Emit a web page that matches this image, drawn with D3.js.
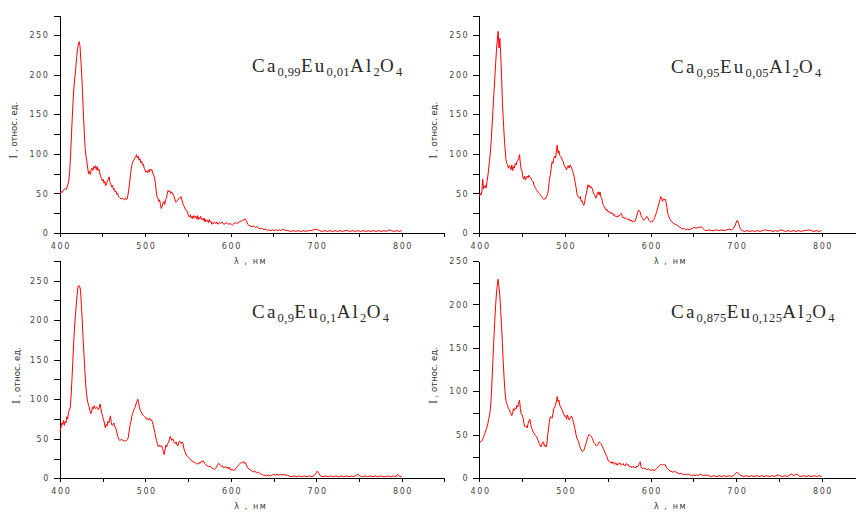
<!DOCTYPE html>
<html>
<head>
<meta charset="utf-8">
<script src="https://cdn.jsdelivr.net/npm/d3@7/dist/d3.min.js"></script>
<style>
    html, body { margin: 0; padding: 0; background: #fff; }
    svg { display: block; }
    .axis path, .axis line { stroke: #000; shape-rendering: crispEdges; }
    .axis text { font-family: "DejaVu Sans", sans-serif; font-size: 8px; fill: #444; letter-spacing: 1.6px; }
    .spectrum { fill: none; stroke: #ff0000; stroke-width: 1; stroke-linejoin: round; }
</style>
</head>
<body>
<div id="chart"></div>
<script>

// ======================================================================== //
// Luminescence spectra of Ca(1-x)Eu(x)Al2O4, four samples
// ======================================================================== //


// DATA  ([wavelength nm, intensity])

var spectrum099 = [[400,50],[402,52],[403,51],[405,55],[407,56],[408,55],[410,62],[411,67],[412,80],[413,100],[414,124],[415,148],[416,170],[417,186],[418,198],[419,208],[420,222],[421,232],[422,238],[423,242],[424,236],[425,218],[426,200],[427,175],[428,149],[429,126],[430,107],[431,97],[432,90],[433,82],[434,75],[435,78],[436,74],[437,80],[438,82],[439,79],[440,84],[441,82],[442,85],[443,80],[444,84],[445,79],[446,81],[447,76],[448,72],[449,69],[450,66],[451,68],[452,63],[453,65],[454,60],[455,62],[456,66],[457,68],[458,71],[459,64],[460,62],[461,58],[462,60],[463,55],[464,56],[465,52],[466,53],[467,49],[468,50],[469,46],[470,45],[472,43],[473,44],[475,42],[477,44],[478,42],[479,43],[480,48],[481,55],[482,64],[483,74],[484,82],[485,88],[486,91],[487,92],[488,95],[489,96],[490,99],[491,95],[492,97],[493,92],[494,94],[495,89],[496,91],[497,86],[498,87],[499,82],[500,80],[501,77],[502,78],[503,76],[504,80],[505,77],[506,81],[507,79],[508,80],[509,76],[510,73],[511,70],[512,64],[513,54],[514,46],[515,44],[516,40],[517,42],[518,36],[519,31],[520,34],[521,38],[522,40],[523,36],[524,42],[525,44],[526,50],[527,54],[528,52],[529,53],[530,50],[531,52],[532,51],[533,48],[534,46],[535,42],[536,39],[537,40],[538,41],[539,43],[540,44],[541,44],[542,46],[543,42],[544,38],[545,35],[546,33],[547,30],[549,28],[550,25],[551,22],[552,20],[553,23],[554,19],[555,21],[556,18],[557,22],[558,20],[559,21],[560,18],[561,22],[562,17],[563,20],[564,18],[565,21],[566,17],[567,18],[568,16],[569,19],[570,14],[571,17],[572,15],[573,16],[574,13],[575,17],[576,14],[577,15],[578,11],[579,13],[580,12],[581,14],[583,12],[584,14],[585,11],[587,13],[588,12],[590,14],[592,11],[594,12],[596,13],[598,11],[600,12],[602,10],[604,12],[606,13],[608,12],[610,14],[612,15],[614,16],[616,17],[617,18],[618,16],[619,14],[620,11],[621,10],[623,9],[625,8],[627,9],[629,7],[631,8],[633,6],[635,5],[637,6],[639,4],[641,5],[643,3],[645,4],[647,3],[649,4],[651,3],[653,4],[655,3],[657,4],[659,3],[661,5],[663,4],[665,3],[667,3],[670,2],[673,3],[676,2],[679,3],[682,2],[685,3],[688,2],[691,3],[694,3],[697,4],[700,5],[702,4],[704,3],[707,2],[710,3],[713,2],[716,3],[719,2],[722,3],[725,2],[728,3],[731,2],[734,3],[737,3],[740,2],[743,3],[746,2],[749,3],[752,2],[755,3],[758,2],[761,3],[764,2],[767,3],[770,2],[773,3],[776,2],[779,3],[782,2],[785,4],[788,3],[791,2],[794,3],[797,2],[800,3]];

var spectrum095 = [[400,46],[401,50],[402,48],[403,52],[404,68],[405,56],[406,58],[407,60],[408,57],[409,65],[410,72],[411,82],[412,92],[413,103],[414,118],[415,137],[416,156],[417,175],[418,194],[419,212],[420,230],[421,244],[422,255],[423,234],[424,246],[425,226],[426,198],[427,166],[428,144],[429,124],[430,108],[431,94],[432,88],[433,87],[434,82],[435,85],[436,84],[437,80],[438,86],[439,79],[440,84],[441,82],[442,88],[443,86],[444,90],[445,92],[446,94],[447,99],[448,88],[449,80],[450,78],[451,70],[452,68],[453,72],[454,67],[455,69],[456,72],[457,70],[458,73],[459,71],[460,70],[461,67],[462,66],[463,65],[464,60],[465,58],[466,56],[467,54],[468,53],[469,51],[470,50],[471,49],[472,47],[473,46],[474,44],[475,43],[477,43],[478,45],[479,47],[480,50],[481,58],[482,68],[483,74],[484,82],[485,90],[486,88],[487,94],[488,97],[489,95],[490,102],[491,111],[492,101],[493,104],[494,98],[495,97],[496,95],[497,92],[498,90],[499,86],[500,84],[501,82],[502,80],[503,84],[504,85],[505,82],[506,86],[507,84],[508,82],[509,78],[510,75],[511,70],[512,64],[513,58],[514,50],[515,47],[516,45],[517,44],[518,46],[519,40],[520,41],[521,37],[522,35],[523,38],[524,45],[525,50],[526,55],[527,61],[528,58],[529,60],[530,57],[531,58],[532,56],[533,52],[534,49],[535,48],[536,44],[537,46],[538,50],[539,52],[540,48],[541,52],[542,46],[543,44],[544,38],[545,35],[546,33],[547,31],[548,29],[549,30],[550,27],[552,27],[553,25],[554,26],[555,24],[556,25],[557,22],[558,23],[559,21],[560,21],[561,20],[562,22],[563,21],[564,23],[565,24],[566,25],[567,21],[568,19],[569,20],[570,18],[571,19],[572,18],[573,17],[574,18],[575,16],[576,17],[577,15],[578,16],[579,14],[580,15],[581,14],[582,15],[583,18],[584,22],[585,26],[586,29],[587,28],[588,26],[589,22],[590,20],[591,18],[592,16],[593,17],[594,18],[595,20],[596,21],[597,19],[598,16],[599,15],[600,14],[601,15],[602,14],[603,16],[604,17],[605,20],[606,23],[607,26],[608,30],[609,34],[610,38],[611,42],[612,46],[613,44],[614,40],[615,43],[616,42],[617,43],[618,40],[619,34],[620,26],[621,22],[622,19],[623,17],[624,15],[625,14],[627,12],[629,11],[631,10],[633,8],[635,7],[637,5],[639,6],[641,4],[643,5],[645,4],[647,5],[649,6],[651,7],[653,6],[655,7],[657,7],[659,8],[661,6],[663,4],[665,3],[668,4],[671,3],[674,3],[677,4],[680,3],[683,4],[686,3],[689,4],[692,5],[695,4],[697,6],[699,10],[701,16],[702,15],[703,12],[704,8],[705,5],[707,3],[710,2],[713,3],[716,2],[719,3],[722,2],[725,3],[728,2],[731,3],[734,4],[737,3],[740,3],[743,2],[746,3],[749,2],[752,4],[755,3],[758,2],[761,3],[764,2],[767,3],[770,2],[773,3],[776,2],[779,3],[782,3],[785,4],[788,3],[791,2],[794,3],[797,2],[800,3]];

var spectrum090 = [[400,59],[401,64],[402,70],[403,68],[404,73],[405,67],[406,72],[407,70],[408,78],[409,75],[410,84],[411,86],[412,90],[413,104],[414,125],[415,148],[416,171],[417,190],[418,206],[419,218],[420,232],[421,242],[422,244],[423,243],[424,238],[425,220],[426,200],[427,178],[428,158],[429,138],[430,120],[431,108],[432,99],[433,94],[434,91],[435,86],[436,82],[437,84],[438,90],[439,88],[440,92],[441,89],[442,88],[443,90],[444,89],[445,87],[446,90],[447,94],[448,88],[449,82],[450,78],[451,74],[452,70],[453,64],[454,68],[455,66],[456,72],[457,70],[458,74],[459,79],[460,70],[461,67],[462,68],[463,70],[464,66],[465,64],[466,61],[467,56],[468,52],[469,49],[470,48],[472,49],[474,48],[476,47],[478,48],[479,49],[480,52],[481,60],[482,67],[483,72],[484,78],[485,82],[486,85],[487,88],[488,90],[489,94],[490,97],[491,100],[492,96],[493,90],[494,86],[495,84],[496,82],[497,80],[498,79],[499,78],[500,77],[501,75],[502,76],[503,74],[504,75],[505,76],[506,73],[507,74],[508,72],[509,68],[510,63],[511,58],[512,52],[513,48],[514,44],[515,40],[516,41],[517,42],[518,40],[519,41],[520,38],[521,34],[522,30],[523,36],[524,42],[525,40],[526,44],[527,45],[528,49],[529,53],[530,50],[531,48],[532,50],[533,47],[534,45],[535,44],[536,46],[537,42],[538,41],[539,45],[540,47],[541,46],[542,44],[543,46],[544,44],[545,38],[546,34],[547,32],[548,29],[549,28],[550,27],[552,25],[553,24],[554,22],[556,21],[557,20],[558,20],[559,19],[560,18],[561,19],[562,18],[563,20],[564,19],[565,21],[566,22],[567,21],[568,22],[569,19],[570,18],[571,17],[572,16],[574,15],[576,15],[578,13],[580,12],[581,11],[582,12],[583,14],[584,16],[585,18],[586,19],[587,17],[588,16],[589,15],[590,16],[591,14],[592,13],[593,14],[594,15],[595,13],[596,14],[597,12],[598,14],[599,11],[600,12],[601,10],[602,11],[604,10],[605,11],[606,13],[607,14],[608,15],[609,17],[610,18],[611,19],[612,20],[613,19],[614,20],[615,21],[616,19],[617,20],[618,17],[619,15],[620,13],[622,11],[624,10],[626,8],[628,9],[630,7],[632,8],[634,6],[636,5],[638,4],[640,4],[642,3],[644,4],[646,3],[648,4],[650,5],[652,4],[654,5],[656,4],[658,5],[660,4],[662,5],[664,4],[666,4],[668,3],[671,2],[674,3],[677,2],[680,3],[683,2],[686,3],[689,2],[692,3],[695,2],[698,4],[700,7],[701,9],[702,8],[703,6],[705,3],[708,2],[711,3],[714,2],[717,3],[720,2],[723,3],[726,2],[729,3],[732,2],[735,3],[738,2],[741,3],[744,2],[747,4],[749,5],[751,3],[754,2],[757,3],[760,2],[763,3],[766,2],[769,3],[772,2],[775,3],[778,2],[781,2],[784,3],[787,2],[790,3],[793,2],[795,5],[797,3],[800,2]];

var spectrum0875 = [[400,41],[401,42],[402,42],[403,43],[404,45],[405,48],[406,50],[407,53],[408,56],[409,59],[410,63],[411,68],[412,73],[413,80],[414,95],[415,115],[416,138],[417,160],[418,180],[419,198],[420,212],[421,222],[422,229],[423,220],[424,210],[425,193],[426,175],[427,155],[428,133],[429,115],[430,100],[431,90],[432,86],[433,84],[434,80],[435,79],[436,76],[437,74],[438,72],[439,76],[440,80],[441,78],[442,81],[443,80],[444,84],[445,82],[446,87],[447,90],[448,80],[449,74],[450,73],[451,70],[452,64],[453,60],[454,59],[455,60],[456,58],[457,63],[458,66],[459,68],[460,62],[461,58],[462,56],[463,53],[464,52],[465,50],[466,49],[467,48],[468,45],[469,43],[470,40],[471,38],[472,36],[473,39],[474,41],[475,42],[476,37],[477,38],[478,36],[479,40],[480,50],[481,58],[482,66],[483,71],[484,70],[485,69],[486,74],[487,80],[488,82],[489,84],[490,88],[491,94],[492,88],[493,90],[494,84],[495,82],[496,80],[497,78],[498,75],[499,73],[500,71],[501,72],[502,68],[503,73],[504,70],[505,67],[506,69],[507,71],[508,71],[509,68],[510,64],[511,60],[512,56],[513,50],[514,46],[515,44],[516,42],[517,38],[518,35],[519,33],[520,31],[521,31],[522,32],[523,35],[524,38],[525,41],[526,45],[527,48],[528,50],[529,50],[530,49],[531,48],[532,46],[533,43],[534,41],[535,40],[536,38],[537,37],[538,38],[539,40],[540,42],[541,41],[542,40],[543,38],[544,36],[545,34],[546,32],[547,29],[548,27],[549,25],[550,22],[551,20],[552,19],[553,18],[554,19],[555,17],[556,19],[557,18],[558,16],[559,18],[560,17],[561,15],[562,17],[563,16],[564,18],[565,17],[566,15],[567,16],[568,17],[569,15],[570,14],[571,16],[572,17],[573,15],[574,16],[575,14],[576,13],[577,14],[578,12],[579,13],[580,14],[581,12],[582,13],[583,12],[584,14],[585,13],[586,15],[587,17],[588,19],[589,13],[590,12],[591,11],[592,12],[594,11],[596,10],[598,11],[600,9],[602,10],[604,9],[606,10],[607,11],[608,12],[609,13],[610,14],[611,15],[612,16],[613,16],[614,15],[615,16],[616,15],[617,16],[618,14],[619,12],[620,11],[622,9],[624,8],[626,7],[628,8],[630,7],[632,6],[634,5],[636,6],[638,4],[640,5],[642,4],[644,5],[646,4],[648,3],[650,4],[652,3],[654,4],[656,3],[658,5],[660,4],[662,3],[665,4],[668,3],[671,2],[674,3],[677,2],[680,3],[683,2],[686,3],[689,2],[692,3],[695,2],[698,4],[700,6],[701,7],[702,6],[704,4],[706,3],[709,2],[712,3],[715,2],[718,3],[721,2],[724,3],[727,2],[730,3],[733,2],[736,3],[739,2],[742,3],[745,2],[748,4],[751,3],[754,2],[757,3],[760,2],[763,4],[765,5],[767,3],[769,4],[771,5],[773,3],[776,2],[779,3],[782,2],[785,3],[788,2],[791,3],[794,2],[797,3],[800,2]];

// Formula labels: [text, isSubscript]
var formula099  = [['C', 0], ['a', 0], ['0,99', 1], ['E', 0], ['u', 0], ['0,01', 1], ['A', 0], ['l', 0], ['2', 1], ['O', 0], ['4', 1]];
var formula095  = [['C', 0], ['a', 0], ['0,95', 1], ['E', 0], ['u', 0], ['0,05', 1], ['A', 0], ['l', 0], ['2', 1], ['O', 0], ['4', 1]];
var formula090  = [['C', 0], ['a', 0], ['0,9', 1], ['E', 0], ['u', 0], ['0,1', 1], ['A', 0], ['l', 0], ['2', 1], ['O', 0], ['4', 1]];
var formula0875 = [['C', 0], ['a', 0], ['0,875', 1], ['E', 0], ['u', 0], ['0,125', 1], ['A', 0], ['l', 0], ['2', 1], ['O', 0], ['4', 1]];

// Tick values
var xTickValues   = [400, 450, 500, 550, 600, 650, 700, 750, 800, 850];
var xLabelValues  = [400, 500, 600, 700, 800];
var yTickValues   = [0, 25, 50, 75, 100, 125, 150, 175, 200, 225, 250, 275];
var yLabelValues  = [0, 50, 100, 150, 200, 250];

var xAxisTitle = 'λ , нм';
var yAxisTitleSymbol = 'I';
var yAxisTitleRest   = ' , относ. ед.';


// LAYOUT

var width  = 856;
var height = 512;

var panels = [
    { data: spectrum099,  formula: formula099,  left: 59.5, right: 401.7, bottom: 233,   yTop: 275, yTopPx: 15.5, titleX: 252, titleY: 72,  yLabelX: 17,  xLabelY: 264 },
    { data: spectrum095,  formula: formula095,  left: 479.3, right: 821.7, bottom: 233,  yTop: 275, yTopPx: 15.5, titleX: 671, titleY: 73,  yLabelX: 437, xLabelY: 264 },
    { data: spectrum090,  formula: formula090,  left: 60,   right: 401.7, bottom: 478.3, yTop: 275, yTopPx: 260.9, titleX: 252, titleY: 318, yLabelX: 20, xLabelY: 509 },
    { data: spectrum0875, formula: formula0875, left: 479.3, right: 821.7, bottom: 478.3, yTop: 250, yTopPx: 261,  titleX: 671, titleY: 318, yLabelX: 437, xLabelY: 509 }
];


// HELPERS

function drawFormula( g, parts, x, y ) {

    var text = g.append( 'text' )
        .attr( 'x', x )
        .attr( 'y', y )
        .attr( 'font-family', '"Liberation Serif", "Times New Roman", serif' )
        .attr( 'font-weight', 'normal' )
        .attr( 'fill', '#2a2a2a' );

    var shifted = false;
    parts.forEach( function( p ) {
        var isSub = p[1] === 1;
        var dy = 0;
        if ( isSub && !shifted ) { dy = 4; shifted = true; }
        if ( !isSub && shifted ) { dy = -4; shifted = false; }
        text.append( 'tspan' )
            .attr( 'dy', dy )
            .attr( 'font-size', isSub ? 12.5 : 19 )
            .attr( 'letter-spacing', isSub ? 0.4 : 2.2 )
            .text( p[0] );
    } );
}

function drawPanel( svg, p ) {

    var x = d3.scaleLinear()
        .domain( [400, 800] )
        .range( [p.left, p.right] );

    var y = d3.scaleLinear()
        .domain( [0, p.yTop] )
        .range( [p.bottom, p.yTopPx] );

    var yTicks = yTickValues.filter( function( v ) { return v <= p.yTop; } );

    // Axes
    var xAxis = d3.axisBottom( x )
        .tickValues( xTickValues )
        .tickSize( 4 )
        .tickSizeOuter( 0 )
        .tickPadding( 6 )
        .tickFormat( function( d ) { return xLabelValues.indexOf( d ) >= 0 ? d : ''; } );

    var yAxis = d3.axisLeft( y )
        .tickValues( yTicks )
        .tickSize( 6 )
        .tickSizeOuter( 0 )
        .tickPadding( 4 )
        .tickFormat( function( d ) { return yLabelValues.indexOf( d ) >= 0 ? d : ''; } );

    var gx = svg.append( 'g' )
        .attr( 'class', 'axis' )
        .attr( 'transform', 'translate(0,' + p.bottom + ')' )
        .call( xAxis );
    gx.select( '.domain' ).attr( 'd', 'M' + x( 400 ) + ',0.5H' + x( 850 ) );
    gx.selectAll( 'text' ).attr( 'dx', '0.8px' );

    svg.append( 'g' )
        .attr( 'class', 'axis' )
        .attr( 'transform', 'translate(' + p.left + ',0)' )
        .call( yAxis );

    // Spectrum
    var line = d3.line()
        .x( function( d ) { return x( d[0] ); } )
        .y( function( d ) { return y( d[1] ); } );

    svg.append( 'path' )
        .datum( p.data )
        .attr( 'class', 'spectrum' )
        .attr( 'd', line );

    // Titles
    drawFormula( svg, p.formula, p.titleX, p.titleY );

    svg.append( 'text' )
        .attr( 'x', ( p.left + p.right ) / 2 + 20 )
        .attr( 'y', p.xLabelY )
        .attr( 'text-anchor', 'middle' )
        .attr( 'font-family', '"DejaVu Sans", sans-serif' )
        .attr( 'font-size', 8 )
        .attr( 'letter-spacing', 1.6 )
        .attr( 'fill', '#333' )
        .text( xAxisTitle );

    var midY = ( p.bottom + p.yTopPx ) / 2 + 6;
    var yl = svg.append( 'text' )
        .attr( 'transform', 'translate(' + p.yLabelX + ',' + midY + ') rotate(-90)' )
        .attr( 'text-anchor', 'middle' )
        .attr( 'fill', '#333' );
    yl.append( 'tspan' )
        .attr( 'font-family', '"Liberation Serif", serif' )
        .attr( 'font-size', 12 )
        .text( yAxisTitleSymbol );
    yl.append( 'tspan' )
        .attr( 'font-family', '"DejaVu Sans", sans-serif' )
        .attr( 'font-size', 8.5 )
        .text( yAxisTitleRest );
}


// MAIN

var svg = d3.select( '#chart' ).append( 'svg' )
    .attr( 'width', width )
    .attr( 'height', height );

panels.forEach( function( p ) {
    drawPanel( svg, p );
} );

</script>
</body>
</html>
